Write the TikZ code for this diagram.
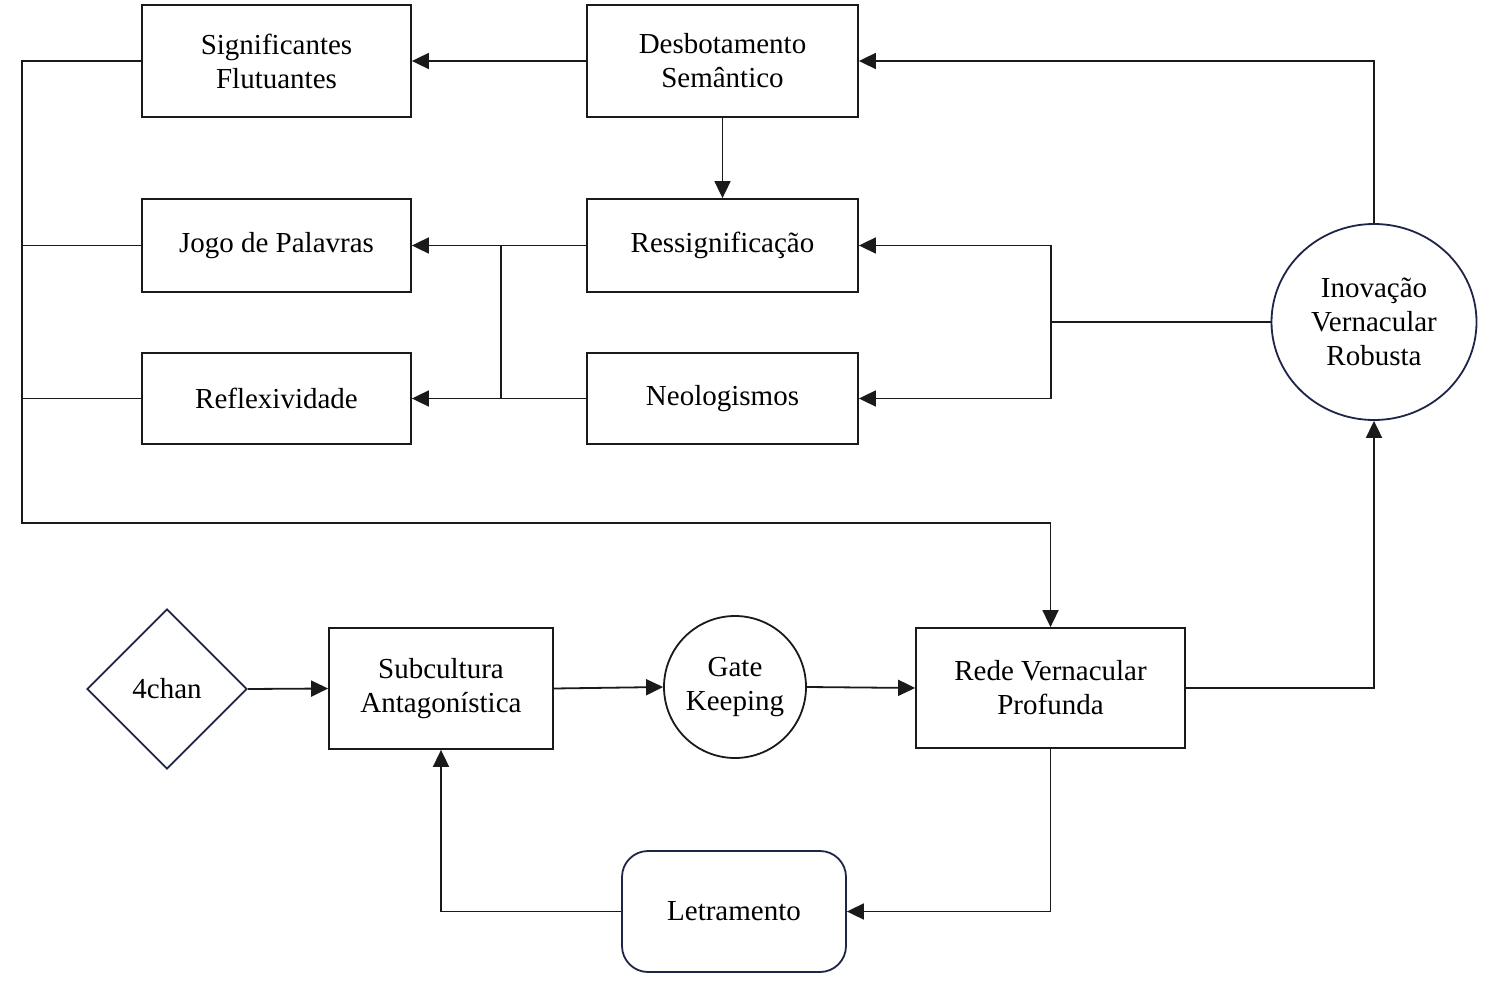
\documentclass[tikz,border=0pt]{standalone}
\usepackage{fontspec}
\setmainfont{Liberation Serif}
\usetikzlibrary{arrows.meta,shapes.geometric}
\definecolor{navy}{HTML}{1F2548}
\definecolor{ink}{HTML}{1A1A1A}
\begin{document}
\begin{tikzpicture}[x=1pt,y=-1pt,
  lbl/.style={inner sep=0pt, align=center, font=\fontsize{29}{34}\selectfont},
  box/.style={lbl, draw=ink, line width=1.8pt, rectangle},
  circ/.style={lbl, draw=navy, line width=1.8pt, circle},
  conn/.style={draw=ink, line width=1.8pt},
  arr/.style={conn, -{Triangle[length=17pt,width=16pt]}}
]
\useasboundingbox[fill=white] (0,0) rectangle (1486,981);
% top grid
\node[box, minimum width=269pt, minimum height=112pt] (sig) at (276.5,61) {Significantes\\Flutuantes};
\node[box, minimum width=271pt, minimum height=112pt] (des) at (722.5,61) {Desbotamento\\Semântico};
\node[box, minimum width=269pt, minimum height=93pt] (jogo) at (276.5,245.5) {Jogo de Palavras};
\node[box, minimum width=271pt, minimum height=93pt] (res) at (722.5,245.5) {Ressignificação};
\node[box, minimum width=269pt, minimum height=91pt] (refl) at (276.5,398.5) {Reflexividade};
\node[box, minimum width=271pt, minimum height=91pt] (neo) at (722.5,398.5) {Neologismos};
\node[lbl, draw=navy, line width=1.8pt, ellipse, minimum width=205pt, minimum height=196pt] (ino) at (1374,322) {Inovação\\Vernacular\\Robusta};
% bottom row
\node[lbl, draw=navy, line width=1.8pt, diamond, aspect=1, minimum width=160pt, minimum height=160pt] (chan) at (167,689) {4chan};
\node[box, minimum width=224pt, minimum height=121pt] (sub) at (441,688.5) {Subcultura\\Antagonística};
\node[circ, draw=ink, minimum size=142pt] (gate) at (735,687) {Gate\\Keeping};
\node[box, minimum width=269pt, minimum height=120pt] (rede) at (1050.5,688) {Rede Vernacular\\Profunda};
\node[lbl, draw=navy, line width=1.8pt, rectangle, rounded corners=26pt, minimum width=224pt, minimum height=121pt] (let) at (734,911.5) {Letramento};
% helper coordinates
\coordinate (jx) at (501,0);
\coordinate (ix) at (1051,0);
\coordinate (lx) at (22,0);
\coordinate (ly) at (0,523);
% connectors
\draw[arr] (des.west) -- (sig.east);
\draw[arr] (ino.north) |- (des.east);
\draw[arr] (des.south) -- (res.north);
\draw[arr] (res.west) -- (jogo.east);
\draw[arr] (neo.west) -- (refl.east);
\draw[conn] (res.west -| jx) -- (neo.west -| jx);
\draw[conn] (ino.west) -- (ino.west -| ix);
\draw[arr] (ino.west -| ix) |- (res.east);
\draw[arr] (ino.west -| ix) |- (neo.east);
\draw[arr] (sig.west) -| (lx |- ly) -| (rede.north);
\draw[conn] (jogo.west) -- (jogo.west -| lx);
\draw[conn] (refl.west) -- (refl.west -| lx);
\draw[arr] (chan.east) -- (sub.west);
\draw[arr] (sub.east) -- (gate.west);
\draw[arr] (gate.east) -- (rede.west);
\draw[arr] (rede.east) -| (ino.south);
\draw[arr] (rede.south) |- (let.east);
\draw[arr] (let.west) -| (sub.south);
\end{tikzpicture}
\end{document}
